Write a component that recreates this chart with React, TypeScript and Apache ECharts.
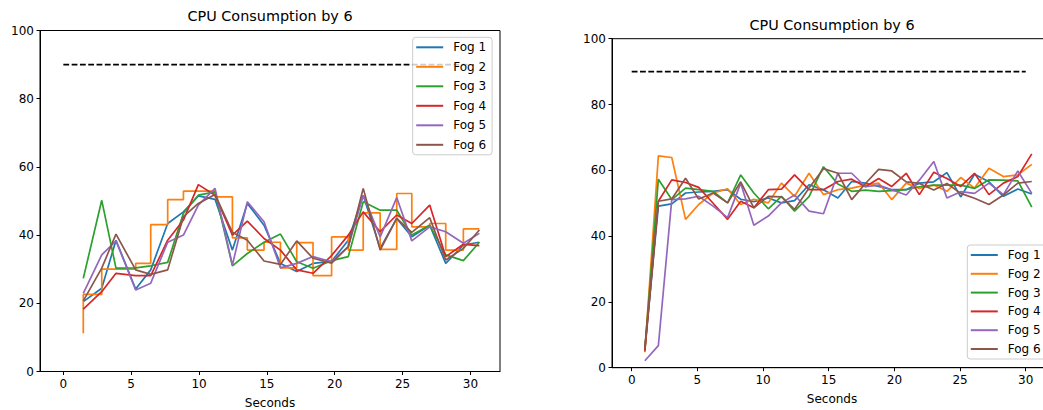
import React, { useEffect, useRef } from "react";
import * as echarts from "echarts";

const FONT = "DejaVu Sans";
const NAMES = ["Fog 1", "Fog 2", "Fog 3", "Fog 4", "Fog 5", "Fog 6"];
const COLORS = ["#1f77b4", "#ff7f0e", "#2ca02c", "#d62728", "#9467bd", "#8c564b"];
const TITLE = "CPU Consumption by 6";
const X_LABEL = "Seconds";
const X_TICKS = [0, 5, 10, 15, 20, 25, 30];
const THRESHOLD = 90;
const THRESHOLD_X = [0, 30];

// Left chart
const leftX = [1.47, 2.83, 3.88, 5.33, 6.44, 7.69, 8.85, 9.95, 11.18, 12.46, 13.56, 14.79, 16.0, 17.2, 18.4, 19.77, 21.0, 22.1, 23.35, 24.57, 25.68, 27.0, 28.18, 29.48, 30.66];
const leftFog1 = [20.5, 24.4, 38.5, 24.2, 29.8, 43.4, 46.8, 51.5, 50.5, 35.6, 49.3, 42.9, 31.7, 29.3, 31.7, 32.3, 38.5, 51.7, 36.1, 44.9, 39.5, 42.9, 31.7, 37.1, 37.9];
const leftFog2 = [11.2, 22.6, 30.0, 30.0, 31.7, 43.1, 50.4, 52.9, 52.9, 51.2, 39.2, 35.6, 37.9, 30.4, 37.8, 28.1, 39.5, 35.6, 46.5, 35.8, 52.2, 42.4, 43.4, 35.6, 41.8];
const leftFog3 = [27.3, 50.2, 30.3, 30.4, 31.0, 32.0, 46.4, 51.7, 52.7, 31.0, 34.6, 37.9, 40.3, 32.2, 30.3, 32.5, 33.7, 49.8, 47.3, 47.3, 40.0, 42.9, 34.2, 32.5, 37.9];
const leftFog4 = [18.3, 23.4, 28.8, 28.1, 28.1, 38.5, 44.4, 54.8, 51.7, 40.0, 44.1, 39.0, 35.6, 29.8, 28.8, 34.0, 40.0, 46.8, 41.0, 45.9, 43.4, 48.8, 33.7, 37.3, 36.9];
const leftFog5 = [22.9, 34.2, 38.3, 23.9, 25.9, 37.9, 40.0, 48.8, 53.7, 31.2, 49.8, 43.9, 30.4, 31.7, 33.7, 32.2, 36.6, 51.7, 39.5, 51.0, 38.3, 42.4, 41.0, 37.6, 40.5];
const leftFog6 = [20.7, 30.3, 40.3, 29.8, 28.5, 29.8, 45.4, 49.3, 51.9, 40.8, 38.5, 32.4, 31.4, 38.3, 33.2, 31.8, 36.6, 53.7, 35.6, 44.9, 40.8, 45.1, 32.7, 36.1, 41.5];

// Right chart
const rightX = [1.0, 2.03, 3.05, 4.1, 5.1, 6.2, 7.3, 8.3, 9.3, 10.4, 11.4, 12.4, 13.5, 14.6, 15.7, 16.75, 17.8, 18.8, 19.8, 20.9, 21.9, 23.0, 24.0, 25.05, 26.1, 27.2, 28.3, 29.4, 30.46];
const rightFog1 = [5.5, 49.1, 49.8, 53.1, 53.4, 53.6, 54.1, 51.2, 50.5, 51.6, 50.1, 50.8, 55.6, 54.1, 51.6, 56.6, 56.1, 55.1, 54.1, 54.1, 56.1, 56.5, 59.3, 51.9, 58.8, 56.5, 52.1, 54.3, 52.8];
const rightFog2 = [4.7, 64.4, 63.9, 45.1, 49.6, 53.1, 54.4, 49.6, 51.2, 50.1, 56.1, 52.1, 59.1, 52.6, 54.1, 54.6, 55.5, 56.1, 51.1, 56.1, 54.5, 55.5, 53.6, 57.8, 54.6, 60.6, 58.1, 58.6, 61.8];
const rightFog3 = [5.5, 57.3, 51.1, 54.6, 54.1, 53.6, 50.1, 58.6, 53.1, 48.3, 52.1, 47.6, 52.0, 61.1, 55.8, 53.6, 54.0, 53.6, 53.8, 54.1, 55.0, 55.5, 55.5, 55.5, 54.5, 57.1, 57.0, 56.8, 48.8];
const rightFog4 = [5.0, 50.6, 57.1, 56.3, 54.8, 50.0, 45.1, 50.6, 48.6, 54.1, 54.3, 58.6, 54.1, 54.1, 56.6, 57.3, 55.0, 57.5, 55.1, 59.1, 52.6, 59.4, 57.5, 55.1, 59.1, 52.6, 56.1, 58.1, 65.0];
const rightFog5 = [2.1, 6.7, 51.1, 51.3, 52.1, 49.1, 45.6, 56.1, 43.3, 46.1, 50.1, 52.5, 47.6, 46.8, 59.1, 59.1, 55.0, 55.5, 54.1, 52.5, 57.0, 62.7, 51.6, 53.5, 53.0, 56.1, 52.6, 59.8, 53.0];
const rightFog6 = [6.0, 50.6, 51.3, 57.6, 51.3, 53.1, 50.1, 56.5, 48.6, 52.1, 51.9, 48.1, 54.6, 60.5, 59.1, 51.1, 56.0, 60.3, 59.8, 56.5, 56.0, 54.0, 56.0, 53.0, 51.5, 49.6, 52.5, 56.1, 56.6];

const leftSeries = [leftFog1, leftFog2, leftFog3, leftFog4, leftFog5, leftFog6];
const rightSeries = [rightFog1, rightFog2, rightFog3, rightFog4, rightFog5, rightFog6];

function makeXAxis(gridIndex: number, min: number, max: number, nameGap: number) {
  return {
    gridIndex,
    type: "value",
    min,
    max,
    axisLine: { show: true, onZero: false, lineStyle: { color: "#000", width: 1 } },
    axisTick: { show: true, inside: false, length: 3.5, lineStyle: { color: "#000", width: 1 }, customValues: X_TICKS },
    axisLabel: { customValues: X_TICKS, margin: 6, color: "#000", fontSize: 12, fontFamily: FONT },
    splitLine: { show: false },
    name: X_LABEL,
    nameLocation: "middle",
    nameGap,
    nameTextStyle: { color: "#000", fontSize: 12, fontFamily: FONT },
  };
}

function makeYAxis(gridIndex: number) {
  return {
    gridIndex,
    type: "value",
    min: 0,
    max: 100,
    interval: 20,
    axisLine: { show: true, onZero: false, lineStyle: { color: "#000", width: 1 } },
    axisTick: { show: true, inside: false, length: 3.5, lineStyle: { color: "#000", width: 1 } },
    axisLabel: { margin: 6, color: "#000", fontSize: 12, fontFamily: FONT },
    splitLine: { show: false },
  };
}

function makeLegend(left: number, top: number, itemGap: number) {
  return {
    left,
    top,
    orient: "vertical",
    icon: "rect",
    itemWidth: 27,
    itemHeight: 2,
    itemGap,
    padding: [4, 6, 4, 3.5],
    borderColor: "#cccccc",
    borderWidth: 1,
    borderRadius: 3,
    backgroundColor: "rgba(255,255,255,0.8)",
    selectedMode: false,
    textStyle: { fontSize: 12, color: "#000", fontFamily: FONT, padding: [0, 0, 0, 5] },
    data: NAMES,
  };
}

export default function App() {
  const ref = useRef<HTMLDivElement>(null);
  useEffect(() => {
    if (!ref.current) return;
    const chart = echarts.init(ref.current, null, { renderer: "svg" });
    const series: any[] = [];
    [0, 1].forEach((g) => {
      const xs = g === 0 ? leftX : rightX;
      const sets = g === 0 ? leftSeries : rightSeries;
      series.push({
        type: "line",
        name: "threshold",
        xAxisIndex: g,
        yAxisIndex: g,
        data: THRESHOLD_X.map((x) => [x, THRESHOLD]),
        showSymbol: false,
        symbol: "none",
        lineStyle: { color: "#000", width: 1.6, type: [5.8, 2.5] },
        silent: true,
      });
      sets.forEach((vals, i) => {
        series.push({
          type: "line",
          name: NAMES[i],
          xAxisIndex: g,
          yAxisIndex: g,
          data: xs.map((x, k) => [x, vals[k]]),
          showSymbol: false,
          symbol: "none",
          step: g === 0 && i === 1 ? "start" : false,
          color: COLORS[i],
          lineStyle: { color: COLORS[i], width: 1.7 },
        });
      });
    });
    chart.setOption({
      animation: false,
      title: [
        { text: TITLE, left: 270, top: 8.5, textAlign: "center", padding: 0, textStyle: { fontSize: 14.4, fontWeight: "normal", color: "#000", fontFamily: FONT } },
        { text: TITLE, left: 832, top: 17.5, textAlign: "center", padding: 0, textStyle: { fontSize: 14.4, fontWeight: "normal", color: "#000", fontFamily: FONT } },
      ],
      legend: [makeLegend(412.7, 37.3, 7.5), makeLegend(967.3, 245, 6.8)],
      grid: [
        { left: 40, top: 30.5, width: 460, height: 341, show: true, borderColor: "#000", borderWidth: 1, backgroundColor: "transparent", outerBoundsMode: "none", containLabel: false },
        { left: 612, top: 38.7, width: 440, height: 329, show: true, borderColor: "#000", borderWidth: 1, backgroundColor: "transparent", outerBoundsMode: "none", containLabel: false },
      ],
      xAxis: [makeXAxis(0, -1.72, 32.18, 25.5), makeXAxis(1, -1.5, 32.0, 25)],
      yAxis: [makeYAxis(0), makeYAxis(1)],
      series,
    });
    return () => chart.dispose();
  }, []);
  return (
    <div
      ref={ref}
      style={{ position: "absolute", left: 0, top: 0, width: 1043, height: 410, overflow: "hidden", background: "#fff" }}
    />
  );
}
